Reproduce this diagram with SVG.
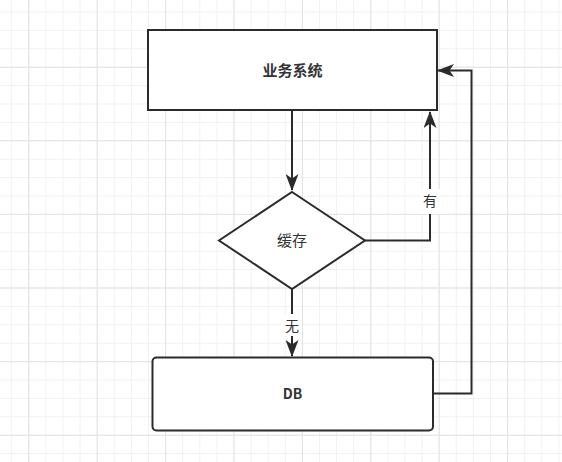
<svg xmlns="http://www.w3.org/2000/svg" width="562" height="462" viewBox="0 0 562 462">
<style>
.shape{fill:#ffffff;stroke:#2b2b2b;stroke-width:2}
.edge{fill:none;stroke:#2b2b2b;stroke-width:2}
.lbl{font-family:"Noto Sans CJK SC","Liberation Sans",sans-serif;fill:#333333;text-anchor:middle}
.bold{font-weight:bold}
</style>
<defs>
<pattern id="minor" patternUnits="userSpaceOnUse" x="11.2" y="11.5" width="17.1" height="18.4">
<path d="M0.5,0 V18.4 M0,0.5 H17.1" stroke="#f1f1f1" stroke-width="1" fill="none"/>
</pattern>
<pattern id="major" patternUnits="userSpaceOnUse" x="28.3" y="66.7" width="68.4" height="73.6">
<path d="M0.5,0 V73.6 M0,0.5 H68.4" stroke="#e2e2e2" stroke-width="1" fill="none"/>
</pattern>
<marker id="arrow" markerUnits="userSpaceOnUse" viewBox="0 0 17 13" refX="16" refY="6.5" markerWidth="17" markerHeight="13" orient="auto">
<path d="M0,0 L17,6.5 L0,13 L4.5,6.5 Z" fill="#2b2b2b"/>
</marker>
</defs>
<rect width="562" height="462" fill="#ffffff"/>
<rect width="562" height="462" fill="url(#minor)"/>
<rect width="562" height="462" fill="url(#major)"/>
<g id="connectors">
<path class="edge" d="M292,111 V190" marker-end="url(#arrow)"/>
<path class="edge" d="M365,240.5 H430 V112" marker-end="url(#arrow)"/>
<path class="edge" d="M292,289 V356" marker-end="url(#arrow)"/>
<path class="edge" d="M433,393.5 H471.5 V70.5 H438" marker-end="url(#arrow)"/>
<rect x="420" y="189" width="20" height="25" fill="#ffffff"/>
<text class="lbl" x="430" y="206" font-size="14">有</text>
<rect x="282" y="314" width="20" height="22" fill="#ffffff"/>
<text class="lbl" x="292" y="331" font-size="14">无</text>
</g>
<g id="node-business">
<rect class="shape" x="148" y="30" width="289" height="80"/>
<text class="lbl bold" x="292.5" y="76" font-size="15">业务系统</text>
</g>
<g id="node-cache">
<path class="shape" d="M292,192 L365,240.5 L292,289 L219,240.5 Z"/>
<text class="lbl" x="292" y="246" font-size="15">缓存</text>
</g>
<g id="node-db">
<rect class="shape" x="152.5" y="357.5" width="280.5" height="73" rx="4" ry="4"/>
<text class="lbl bold" x="292.5" y="399" font-size="14">DB</text>
</g>
</svg>
